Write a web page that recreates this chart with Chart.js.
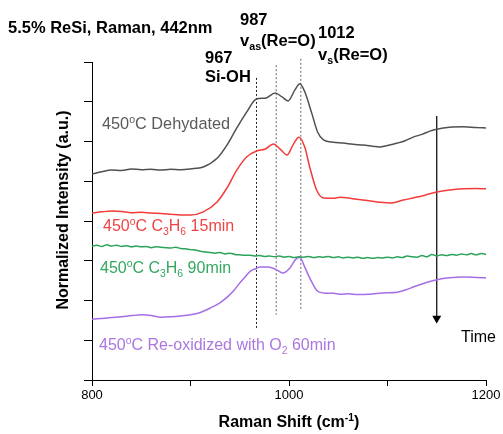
<!DOCTYPE html>
<html>
<head>
<meta charset="utf-8">
<script src="https://cdn.jsdelivr.net/npm/chart.js@4.4.1/dist/chart.umd.min.js"></script>
<style>
  html, body { margin: 0; padding: 0; background: #fff; }
  canvas { display: block; }
</style>
</head>
<body>
<canvas id="raman" width="503" height="434"></canvas>
<script>
// Raman shift (cm-1) and normalized intensity
const shiftDehyd = [800, 810, 820, 830, 840, 850, 860, 870, 880, 890, 900, 913, 927, 937, 947, 957, 967, 976, 986, 993, 999, 1006, 1011, 1016, 1023, 1029, 1035, 1045, 1055, 1065, 1075, 1085, 1092, 1100, 1110, 1118, 1126, 1135, 1143, 1150, 1163, 1177, 1190, 1200];
const intDehyd = [5.18, 5.24, 5.28, 5.27, 5.31, 5.29, 5.30, 5.28, 5.30, 5.29, 5.31, 5.36, 5.58, 5.91, 6.34, 6.74, 7.07, 7.09, 7.22, 7.12, 7.02, 7.30, 7.45, 7.25, 6.72, 6.24, 6.04, 5.98, 5.96, 5.93, 5.91, 5.88, 5.86, 5.90, 5.96, 6.02, 6.11, 6.18, 6.26, 6.31, 6.36, 6.37, 6.35, 6.34];

const shiftC3H6_15 = [800, 810, 820, 830, 840, 850, 860, 870, 880, 890, 900, 913, 927, 937, 947, 957, 967, 976, 984, 991, 998, 1004, 1010, 1016, 1021, 1028, 1035, 1045, 1052, 1062, 1075, 1090, 1103, 1115, 1126, 1138, 1150, 1163, 1177, 1190, 1200];
const intC3H6_15 = [4.20, 4.23, 4.25, 4.24, 4.21, 4.22, 4.20, 4.19, 4.17, 4.15, 4.15, 4.23, 4.48, 4.83, 5.28, 5.61, 5.76, 5.81, 5.94, 5.81, 5.66, 5.91, 6.11, 5.86, 5.36, 4.78, 4.58, 4.57, 4.60, 4.57, 4.53, 4.48, 4.45, 4.52, 4.58, 4.65, 4.73, 4.78, 4.81, 4.82, 4.81];

const shiftC3H6_90 = [800, 805, 810, 815, 820, 825, 830, 835, 840, 845, 850, 855, 860, 865, 870, 875, 880, 885, 890, 895, 900, 905, 910, 915, 920, 925, 930, 935, 940, 945, 950, 955, 960, 965, 970, 975, 980, 985, 990, 995, 1000, 1005, 1010, 1015, 1020, 1025, 1030, 1035, 1040, 1045, 1050, 1055, 1060, 1065, 1070, 1075, 1080, 1085, 1090, 1095, 1100, 1105, 1110, 1115, 1120, 1125, 1130, 1135, 1140, 1145, 1150, 1155, 1160, 1165, 1170, 1175, 1180, 1185, 1190, 1195, 1200];
const intC3H6_90 = [3.37, 3.39, 3.36, 3.40, 3.37, 3.39, 3.36, 3.38, 3.35, 3.37, 3.35, 3.36, 3.33, 3.35, 3.34, 3.33, 3.32, 3.34, 3.31, 3.30, 3.28, 3.27, 3.24, 3.22, 3.21, 3.19, 3.21, 3.17, 3.19, 3.16, 3.15, 3.14, 3.14, 3.12, 3.13, 3.11, 3.12, 3.10, 3.12, 3.09, 3.11, 3.08, 3.10, 3.09, 3.11, 3.08, 3.10, 3.09, 3.11, 3.08, 3.10, 3.07, 3.09, 3.07, 3.09, 3.06, 3.08, 3.06, 3.08, 3.07, 3.09, 3.07, 3.10, 3.08, 3.12, 3.10, 3.09, 3.13, 3.10, 3.16, 3.12, 3.15, 3.13, 3.16, 3.14, 3.17, 3.15, 3.18, 3.15, 3.18, 3.16];

const shiftReox = [800, 810, 820, 830, 840, 850, 860, 870, 880, 890, 900, 910, 920, 929, 937, 944, 950, 955, 960, 966, 971, 979, 986, 994, 1001, 1007, 1011, 1016, 1021, 1028, 1035, 1045, 1052, 1060, 1070, 1082, 1095, 1110, 1120, 1126, 1138, 1150, 1163, 1177, 1190, 1200];
const intReox = [1.53, 1.55, 1.57, 1.59, 1.62, 1.64, 1.62, 1.58, 1.59, 1.61, 1.64, 1.70, 1.81, 1.93, 2.08, 2.25, 2.44, 2.58, 2.72, 2.80, 2.84, 2.84, 2.79, 2.69, 2.82, 3.04, 3.08, 2.84, 2.57, 2.26, 2.19, 2.18, 2.16, 2.17, 2.15, 2.16, 2.19, 2.21, 2.28, 2.34, 2.44, 2.52, 2.57, 2.59, 2.58, 2.57];

// marker lines: position, top, bottom
const peakShifts = [967, 987, 1012];
const peakTops = [7.6, 7.92, 8.08];
const peakBottoms = [1.31, 1.64, 1.79];
const arrowShift = 1150;
const arrowRange = [6.64, 1.55];

const xTicks = { min: 800, max: 1200, step: 100 };

const FONT = '"Liberation Sans", Arial, sans-serif';

function pts(xs, ys) {
    return xs.map((x, i) => ({ x: x, y: ys[i] }));
}

function curve(xs, ys, color) {
    return {
        data: pts(xs, ys),
        borderColor: color,
        borderWidth: 1.5,
        pointRadius: 0,
        tension: 0.4,
        cubicInterpolationMode: 'monotone'
    };
}

const peakColors = ['#222', '#666', '#666'];
const peakLines = peakShifts.map((s, i) => ({
    data: [{ x: s, y: peakTops[i] }, { x: s, y: peakBottoms[i] }],
    borderColor: peakColors[i],
    borderWidth: 1,
    borderDash: [2, 2],
    pointRadius: 0,
    clip: false
}));

// draw a string made of normal / sup / sub pieces
function richWidth(ctx, parts, size, weight) {
    let w = 0;
    parts.forEach(p => {
        const s = p[1] ? size * 0.65 : size;
        ctx.font = weight + ' ' + s + 'px ' + FONT;
        w += ctx.measureText(p[0]).width;
    });
    return w;
}

function drawRich(ctx, x, y, parts, size, weight, color) {
    ctx.fillStyle = color;
    ctx.textBaseline = 'alphabetic';
    ctx.textAlign = 'left';
    parts.forEach(p => {
        let s = size, dy = 0;
        if (p[1] === 'sup') { s = size * 0.65; dy = -size * 0.38; }
        if (p[1] === 'sub') { s = size * 0.65; dy = size * 0.24; }
        ctx.font = weight + ' ' + s + 'px ' + FONT;
        ctx.fillText(p[0], x, y + dy);
        x += ctx.measureText(p[0]).width;
    });
}

const textPlugin = {
    id: 'texts',
    afterDraw(chart) {
        const ctx = chart.ctx;
        const B = 16.5;
        ctx.save();
        drawRich(ctx, 8, 33, [['5.5% ReSi, Raman, 442nm', '']], B, 'bold', '#000');

        drawRich(ctx, 240, 25, [['987', '']], B, 'bold', '#000');
        drawRich(ctx, 240, 46, [['v', ''], ['as', 'sub'], ['(Re=O)', '']], B, 'bold', '#000');
        drawRich(ctx, 318, 38, [['1012', '']], B, 'bold', '#000');
        drawRich(ctx, 318, 60, [['v', ''], ['s', 'sub'], ['(Re=O)', '']], B, 'bold', '#000');
        drawRich(ctx, 205, 63, [['967', '']], B, 'bold', '#000');
        drawRich(ctx, 205, 82, [['Si-OH', '']], B, 'bold', '#000');

        drawRich(ctx, 102, 129, [['450', ''], ['o', 'sup'], ['C Dehydated', '']], 16.3, 'normal', '#5a5a5a');
        drawRich(ctx, 103, 231, [['450', ''], ['o', 'sup'], ['C C', ''], ['3', 'sub'], ['H', ''], ['6', 'sub'], [' 15min', '']], 16, 'normal', '#f04444');
        drawRich(ctx, 100, 273, [['450', ''], ['o', 'sup'], ['C C', ''], ['3', 'sub'], ['H', ''], ['6', 'sub'], [' 90min', '']], 16, 'normal', '#33a860');
        drawRich(ctx, 99, 350, [['450', ''], ['o', 'sup'], ['C Re-oxidized with O', ''], ['2', 'sub'], [' 60min', '']], 16, 'normal', '#aa77e0');

        drawRich(ctx, 461, 342, [['Time', '']], 16, 'normal', '#000');

        const xt = [['Raman Shift (cm', ''], ['-1', 'sup'], [')', '']];
        const w = richWidth(ctx, xt, 16, 'bold');
        drawRich(ctx, 289 - w / 2, 427, xt, 16, 'bold', '#000');

        const yt = [['Normalized Intensity (a.u.)', '']];
        const wy = richWidth(ctx, yt, 16, 'bold');
        ctx.translate(68, 210);
        ctx.rotate(-Math.PI / 2);
        drawRich(ctx, -wy / 2, 0, yt, 16, 'bold', '#000');
        ctx.restore();
    }
};

new Chart(document.getElementById('raman'), {
    type: 'line',
    data: {
        datasets: [
            curve(shiftDehyd, intDehyd, '#505050'),
            curve(shiftC3H6_15, intC3H6_15, '#f23c3c'),
            curve(shiftC3H6_90, intC3H6_90, '#2ca35a'),
            curve(shiftReox, intReox, '#a66ee6'),
            ...peakLines,
            {
                data: [{ x: arrowShift, y: arrowRange[0] }, { x: arrowShift, y: arrowRange[1] }],
                borderColor: '#000',
                backgroundColor: '#000',
                borderWidth: 1.2,
                pointRadius: [0, 4],
                pointStyle: 'triangle',
                rotation: 180,
                clip: false
            }
        ]
    },
    options: {
        responsive: false,
        animation: false,
        devicePixelRatio: 1,
        layout: { padding: { left: 72, top: 62, right: 17, bottom: 0 } },
        plugins: { legend: { display: false }, tooltip: { enabled: false } },
        scales: {
            x: {
                type: 'linear',
                min: xTicks.min,
                max: xTicks.max,
                afterFit: s => { s.height = 54; },
                ticks: {
                    stepSize: xTicks.step,
                    callback: v => (v % 200 === 0 ? v : ''),
                    color: '#000',
                    font: { family: FONT, size: 13 },
                    maxRotation: 0,
                    padding: 2
                },
                grid: { drawOnChartArea: false, tickLength: 6, color: '#000' },
                border: { color: '#000', width: 1 }
            },
            y: {
                min: 0,
                max: 8,
                afterFit: s => { s.width = 20; },
                ticks: { stepSize: 1, callback: () => '' },
                grid: { drawOnChartArea: false, tickLength: 8, color: '#000' },
                border: { color: '#000', width: 1 }
            }
        }
    },
    plugins: [textPlugin]
});
</script>
</body>
</html>
